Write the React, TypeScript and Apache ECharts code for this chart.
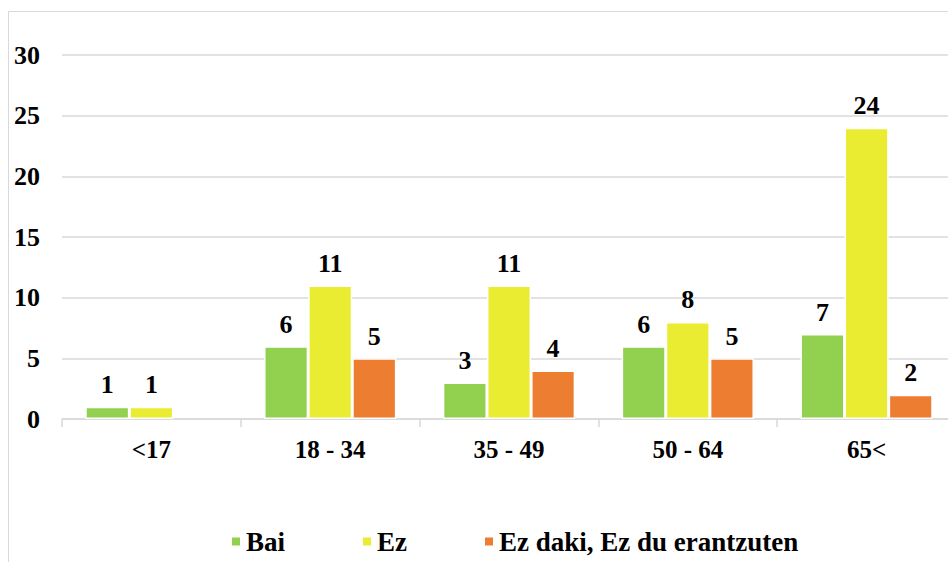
import React, { useEffect, useRef } from "react";
import * as echarts from "echarts";

const categories = ["<17", "18 - 34", "35 - 49", "50 - 64", "65<"];
const seriesNames = ["Bai", "Ez", "Ez daki, Ez du erantzuten"];
const baiValues = [1, 6, 3, 6, 7];
const ezValues = [1, 11, 11, 8, 24];
const ezDakiValues = [null, 5, 4, 5, 2];
const yTicks = { min: 0, max: 30, interval: 5 };
const colors = ["#92d050", "#e9ec31", "#ed7d31"];

const serif = "Liberation Serif";

export default function App() {
  const ref = useRef<HTMLDivElement>(null);
  useEffect(() => {
    if (!ref.current) return;
    const chart = echarts.init(ref.current, undefined, { renderer: "svg" });
    const values = [baiValues, ezValues, ezDakiValues];
    chart.setOption({
      animation: false,
      backgroundColor: "#ffffff",
      textStyle: { fontFamily: serif },
      graphic: [
        {
          type: "rect",
          shape: { x: 8.5, y: 11.5, width: 1000, height: 600 },
          style: { fill: "none", stroke: "#d9d9d9", lineWidth: 1 },
          silent: true,
          z: -1,
        },
      ],
      grid: { left: 62, top: 55, right: 24, bottom: 143, containLabel: false },
      legend: {
        left: 225,
        top: 523,
        itemWidth: 10,
        itemHeight: 10,
        itemGap: 76,
        icon: "rect",
        textStyle: { fontFamily: serif, fontWeight: "bold", fontSize: 27, color: "#000" },
        data: seriesNames,
      },
      xAxis: {
        type: "category",
        data: categories,
        axisLine: { lineStyle: { color: "#d9d9d9", width: 1.5 } },
        axisTick: { show: true, length: 8, lineStyle: { color: "#d9d9d9", width: 1.5 } },
        axisLabel: { fontFamily: serif, fontWeight: "bold", fontSize: 25, color: "#000", margin: 18 },
      },
      yAxis: {
        type: "value",
        min: yTicks.min,
        max: yTicks.max,
        interval: yTicks.interval,
        axisLine: { show: false },
        axisTick: { show: false },
        splitLine: { lineStyle: { color: "#d9d9d9", width: 1.5 } },
        axisLabel: { fontFamily: serif, fontWeight: "bold", fontSize: 26, color: "#000", margin: 22 },
      },
      series: seriesNames.map((name, i) => ({
        name,
        type: "bar",
        data: values[i],
        barGap: "0%",
        barCategoryGap: "26%",
        itemStyle: { color: colors[i], borderColor: "#ffffff", borderWidth: 1.5 },
        label: {
          show: true,
          position: "top",
          distance: 9,
          fontFamily: serif,
          fontWeight: "bold",
          fontSize: 26,
          color: "#000",
        },
      })),
    });
    return () => chart.dispose();
  }, []);
  return (
    <div
      ref={ref}
      style={{ position: "fixed", left: 0, top: 0, width: 980, height: 562 }}
    />
  );
}
